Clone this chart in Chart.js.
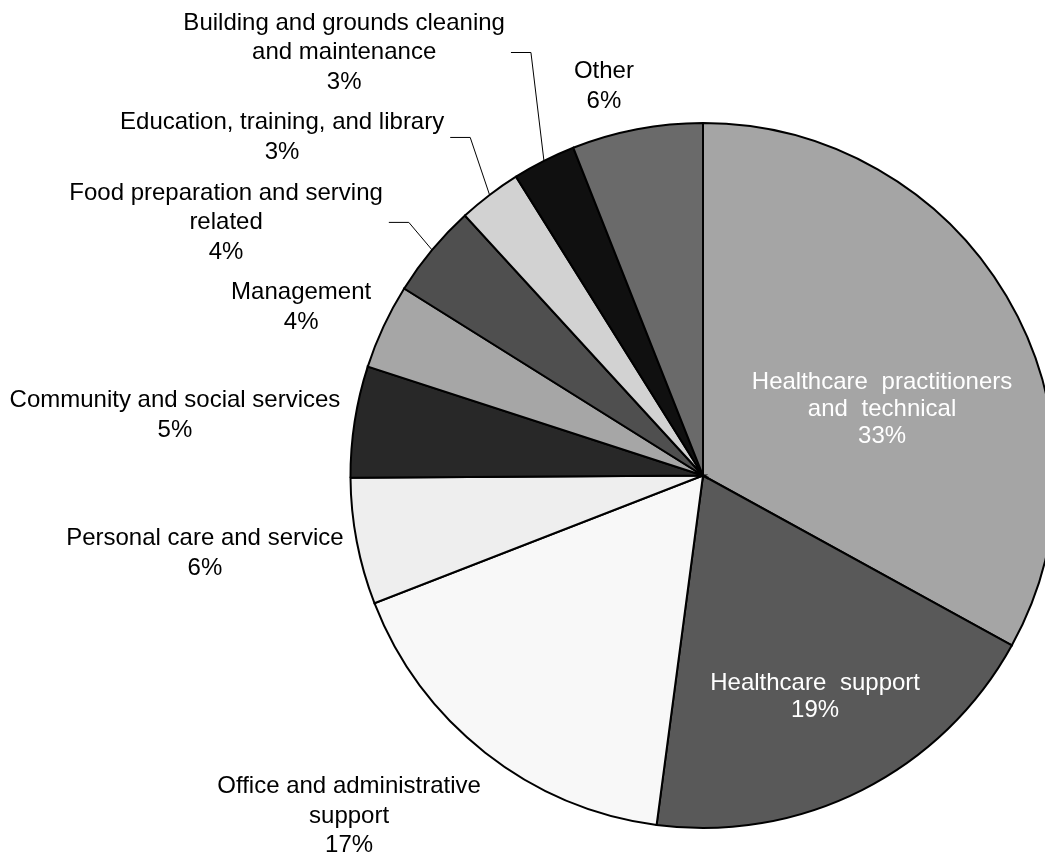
<!DOCTYPE html>
<html><head><meta charset="utf-8">
<script src="https://cdn.jsdelivr.net/npm/chart.js@4"></script>
<style>html,body{margin:0;padding:0;background:#fff;overflow:hidden;width:1045px;height:859px}canvas{display:block}</style>
</head><body><canvas id="c" width="1072" height="859"></canvas>
<script>
// ---- data ----
const categories = [
  "Healthcare practitioners\nand technical",
  "Healthcare support",
  "Office and administrative\nsupport",
  "Personal care and service",
  "Community and social services",
  "Management",
  "Food preparation and serving\nrelated",
  "Education, training, and library",
  "Building and grounds cleaning\nand maintenance",
  "Other"
];
const shares = [33.0, 19.1, 17.0, 5.8, 5.1, 3.9, 4.3, 2.9, 2.9, 6.0];
const sliceColors = ["#a5a5a5","#595959","#f8f8f8","#eeeeee","#282828","#a6a6a6","#4f4f4f","#d2d2d2","#101010","#6a6a6a"];
const labelColors = ["#ffffff","#ffffff","#000","#000","#000","#000","#000","#000","#000","#000"];
// label block centre, as fraction of radius from pie centre; leader flag
const labelDX = [0.508, 0.318, -1.004, -1.413, -1.498, -1.140, -1.353, -1.194, -1.018, -0.281];
const labelDY = [-0.187, 0.627, 0.967, 0.221, -0.170, -0.477, -0.718, -0.959, -1.200, -1.104];
const hasLeader = [false,false,false,false,false,false,true,true,true,false];

const FONT = '24px "Liberation Sans", Arial, sans-serif';

const labelPlugin = {
  id: 'sliceLabels',
  afterDatasetsDraw(chart) {
    const ctx = chart.ctx;
    const meta = chart.getDatasetMeta(0);
    const total = shares.reduce((a,b)=>a+b,0);
    ctx.save();
    ctx.font = FONT;
    ctx.textAlign = 'center';
    ctx.textBaseline = 'middle';
    meta.data.forEach((arc, i) => {
      const p = arc.getProps(['x','y','outerRadius','startAngle','endAngle'], true);
      const r = p.outerRadius;
      const cx = p.x + labelDX[i] * r;
      const cy = p.y + labelDY[i] * r;
      const lines = categories[i].split('\n').concat([Math.round(shares[i] / total * 100) + '%']);
      const inner = labelColors[i] === '#ffffff';
      const lh = inner ? 27 : 29.5;
      if ('wordSpacing' in ctx) ctx.wordSpacing = inner ? '7px' : '0px';
      ctx.fillStyle = labelColors[i];
      let maxW = 0;
      lines.forEach((t, k) => {
        const ly = cy + (k - (lines.length - 1) / 2) * lh;
        ctx.fillText(t, cx, ly);
        maxW = Math.max(maxW, ctx.measureText(t).width);
      });
      if (hasLeader[i]) {
        const mid = (p.startAngle + p.endAngle) / 2;
        const ex = p.x + Math.cos(mid) * r;
        const ey = p.y + Math.sin(mid) * r;
        const sx = cx + maxW / 2 + 6;
        ctx.beginPath();
        ctx.strokeStyle = '#000';
        ctx.lineWidth = 1;
        ctx.moveTo(sx, cy);
        ctx.lineTo(sx + 20, cy);
        ctx.lineTo(ex, ey);
        ctx.stroke();
      }
    });
    ctx.restore();
  }
};

new Chart(document.getElementById('c'), {
  type: 'pie',
  data: {
    labels: categories.map(c => c.replace('\n',' ')),
    datasets: [{
      data: shares,
      backgroundColor: sliceColors,
      borderColor: '#000',
      borderWidth: 2,
      borderJoinStyle: 'miter'
    }]
  },
  options: {
    responsive: false,
    devicePixelRatio: 1,
    animation: false,
    layout: { padding: { left: 349.5, right: 15.5, top: 122, bottom: 30 } },
    plugins: { legend: { display: false }, tooltip: { enabled: false } }
  },
  plugins: [labelPlugin]
});
</script>
</body></html>
